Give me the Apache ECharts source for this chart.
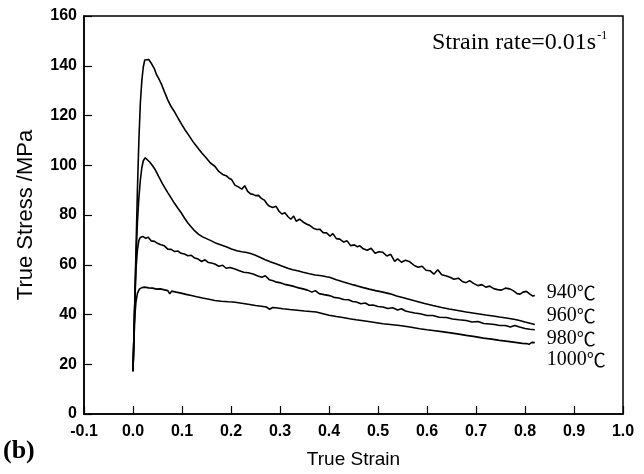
<!DOCTYPE html>
<html>
<head>
<meta charset="utf-8">
<script src="https://cdn.jsdelivr.net/npm/echarts@6/dist/echarts.min.js"></script>
<style>html,body{margin:0;padding:0;background:#fff}#c{width:644px;height:474px}</style>
</head>
<body>
<div id="c"></div>
<script>
// ---- data (true strain, true stress MPa) ----
const seriesNames = ['940', '960', '980', '1000'];
const unit = '℃';
const xTicks = [-0.1, 0.0, 0.1, 0.2, 0.3, 0.4, 0.5, 0.6, 0.7, 0.8, 0.9, 1.0];
const yTicks = [0, 20, 40, 60, 80, 100, 120, 140, 160];

const s940 = [[0,17.2],[0.003,40],[0.006,65],[0.009,90],[0.012,110],[0.015,125],[0.018,134],[0.021,139.5],[0.024,142.3],
[0.027,143.0],[0.032,142.5],[0.038,140.8],[0.044,138.6],[0.048,136.4],[0.052,135.0],[0.058,132.6],[0.064,129.6],[0.071,126.3],
[0.078,123.5],[0.085,121.4],[0.092,118.9],[0.1,116.2],[0.106,114.3],[0.114,112.0],[0.122,109.6],[0.13,107.5],[0.14,105.0],
[0.15,102.8],[0.158,100.9],[0.167,99.6],[0.175,97.5],[0.183,96.3],[0.19,95.8],[0.196,94.8],[0.201,94.3],[0.208,92.0],
[0.215,91.3],[0.222,90.4],[0.228,91.8],[0.234,89.5],[0.24,88.5],[0.245,88.3],[0.25,87.8],[0.256,87.9],[0.262,86.7],
[0.268,86.0],[0.274,84.3],[0.279,83.5],[0.285,83.0],[0.292,83.5],[0.298,81.5],[0.304,80.4],[0.31,80.9],[0.316,79.4],
[0.322,78.3],[0.328,79.6],[0.333,77.5],[0.34,78.3],[0.347,77.2],[0.354,76.4],[0.36,75.9],[0.368,74.7],[0.375,74.2],
[0.381,74.3],[0.388,72.9],[0.395,72.8],[0.402,71.5],[0.408,72.5],[0.415,70.5],[0.422,70.3],[0.43,69.1],[0.437,69.6],
[0.444,67.7],[0.452,68.0],[0.458,67.2],[0.463,67.6],[0.47,66.4],[0.478,65.8],[0.486,66.6],[0.494,64.6],[0.502,65.2],
[0.51,65.0],[0.518,63.5],[0.526,64.2],[0.534,61.4],[0.54,62.4],[0.548,61.0],[0.556,61.8],[0.565,61.2],[0.574,59.7],
[0.582,59.0],[0.59,59.4],[0.598,57.8],[0.606,57.6],[0.614,56.2],[0.622,58.0],[0.63,56.0],[0.638,55.6],[0.647,55.0],
[0.655,54.2],[0.664,54.6],[0.672,53.3],[0.68,52.8],[0.687,53.6],[0.695,52.5],[0.704,51.6],[0.712,52.0],[0.72,51.0],
[0.728,51.4],[0.736,50.4],[0.744,50.0],[0.752,49.8],[0.76,50.6],[0.769,50.3],[0.776,49.6],[0.784,48.4],[0.79,48.2],
[0.796,49.0],[0.803,49.3],[0.81,48.2],[0.816,47.4],[0.82,47.6]];

const s960 = [[0,17.2],[0.003,40],[0.006,62],[0.009,77],[0.012,87],[0.015,94],[0.018,99],[0.021,101.8],[0.025,103.0],
[0.029,102.6],[0.034,101.3],[0.04,99.8],[0.045,98.3],[0.052,95.6],[0.06,92.6],[0.066,90.6],[0.071,89.0],[0.078,86.8],
[0.085,84.6],[0.092,82.6],[0.098,81.0],[0.105,78.8],[0.112,76.8],[0.119,75.2],[0.126,73.6],[0.134,72.2],[0.142,71.2],
[0.15,70.5],[0.16,69.6],[0.17,68.6],[0.18,67.9],[0.19,67.2],[0.201,66.3],[0.212,65.6],[0.222,65.2],[0.232,64.9],
[0.24,64.5],[0.25,63.8],[0.26,62.9],[0.27,62.0],[0.28,61.2],[0.293,60.3],[0.305,59.4],[0.316,58.6],[0.326,58.0],
[0.338,57.5],[0.347,57.0],[0.36,56.4],[0.372,55.9],[0.385,55.6],[0.395,55.2],[0.401,55.0],[0.415,54.0],[0.428,53.2],
[0.44,52.5],[0.45,51.9],[0.456,51.6],[0.47,50.8],[0.482,50.2],[0.495,49.6],[0.51,49.0],[0.525,48.3],[0.538,47.4],
[0.55,46.8],[0.565,46.0],[0.58,45.2],[0.595,44.4],[0.612,43.6],[0.63,42.8],[0.645,42.2],[0.66,41.7],[0.68,41.0],
[0.7,40.4],[0.72,39.8],[0.735,39.4],[0.748,39.0],[0.765,38.5],[0.78,38.0],[0.789,37.6],[0.8,37.0],[0.812,36.4],[0.82,36.0]];

const s980 = [[0,17.2],[0.003,40],[0.006,58],[0.009,66],[0.012,69.8],[0.015,71.0],[0.02,71.4],[0.026,70.6],[0.031,71.1],
[0.037,69.6],[0.044,69.4],[0.05,68.6],[0.057,68.0],[0.064,67.6],[0.071,66.3],[0.078,66.2],[0.085,65.3],[0.092,65.5],
[0.098,64.6],[0.105,64.3],[0.112,63.6],[0.119,63.8],[0.126,62.7],[0.133,62.3],[0.14,61.3],[0.147,62.0],[0.154,60.9],
[0.16,60.7],[0.167,60.3],[0.175,59.4],[0.183,59.8],[0.19,58.6],[0.198,58.9],[0.208,58.3],[0.217,57.6],[0.226,57.0],
[0.235,56.8],[0.245,56.3],[0.255,55.5],[0.263,55.0],[0.27,55.6],[0.278,54.0],[0.286,53.6],[0.293,53.0],[0.302,52.7],
[0.312,52.0],[0.322,51.6],[0.33,51.2],[0.338,50.7],[0.347,50.3],[0.356,49.8],[0.365,49.0],[0.372,49.6],[0.38,48.4],
[0.39,48.0],[0.401,47.6],[0.41,46.9],[0.42,46.6],[0.43,46.0],[0.44,45.9],[0.448,45.2],[0.456,45.0],[0.465,44.3],
[0.474,44.6],[0.482,43.7],[0.49,43.8],[0.5,43.2],[0.51,43.0],[0.52,42.4],[0.53,42.7],[0.54,41.8],[0.548,42.3],
[0.556,41.4],[0.565,41.0],[0.575,40.6],[0.586,40.3],[0.6,39.6],[0.612,39.6],[0.625,38.9],[0.64,38.8],[0.652,38.2],
[0.665,37.9],[0.68,37.6],[0.692,37.0],[0.704,37.2],[0.716,36.4],[0.728,36.2],[0.738,36.0],[0.748,35.6],[0.76,35.6],
[0.77,35.0],[0.779,35.6],[0.789,35.0],[0.8,34.4],[0.81,34.1],[0.82,33.9]];

const s1000 = [[0,17.2],[0.002,30],[0.004,40],[0.006,45],[0.009,48.5],[0.013,50.2],[0.018,50.8],[0.024,51.0],[0.032,50.7],
[0.04,50.6],[0.048,50.2],[0.056,50.3],[0.064,49.9],[0.071,49.6],[0.075,48.3],[0.079,49.4],[0.088,49.0],[0.098,48.6],
[0.108,48.1],[0.119,47.6],[0.13,47.1],[0.142,46.6],[0.155,46.1],[0.167,45.6],[0.18,45.3],[0.195,45.1],[0.204,45.0],
[0.208,45.7],[0.212,44.8],[0.225,44.4],[0.238,44.0],[0.25,43.6],[0.262,43.3],[0.272,43.0],[0.279,42.1],[0.285,42.8],
[0.295,42.6],[0.306,42.3],[0.32,42.0],[0.335,41.7],[0.35,41.4],[0.362,41.2],[0.374,41.0],[0.388,40.3],[0.4,39.7],
[0.415,39.2],[0.428,38.8],[0.442,38.3],[0.455,37.9],[0.47,37.5],[0.484,37.1],[0.497,36.7],[0.51,36.3],[0.525,36.0],
[0.544,35.6],[0.565,35.0],[0.585,34.3],[0.6,33.9],[0.612,33.6],[0.63,33.1],[0.648,32.6],[0.665,32.1],[0.68,31.6],
[0.698,31.1],[0.715,30.5],[0.732,30.1],[0.748,29.6],[0.765,29.2],[0.78,28.8],[0.795,28.4],[0.803,28.3],[0.808,28.0],
[0.814,28.8],[0.82,28.7]];

const seriesData = [s940, s960, s980, s1000];
const labelOffsets = [[4, -3], [4, -9], [4, 9], [4, 17]];

const chart = echarts.init(document.getElementById('c'), null, {renderer: 'canvas'});
const sans = "'Liberation Sans', Arial, sans-serif";
const serif = "'Liberation Serif', 'Times New Roman', serif";
const tickFont = {fontFamily: sans, fontWeight: 'bold', fontSize: 16, color: '#000'};

chart.setOption({
  animation: false,
  backgroundColor: '#fff',
  grid: {left: 84, right: 21, top: 16, bottom: 58, show: true, borderColor: '#000', borderWidth: 1.5, backgroundColor: 'transparent'},
  xAxis: {
    type: 'value', min: xTicks[0], max: xTicks[xTicks.length - 1], interval: 0.1,
    name: 'True Strain', nameLocation: 'middle', nameGap: 36,
    nameTextStyle: {fontFamily: sans, fontSize: 19, color: '#000'},
    axisLine: {onZero: false, lineStyle: {color: '#000', width: 1.5}},
    axisTick: {inside: true, length: 8, lineStyle: {color: '#000', width: 1.2}},
    axisLabel: Object.assign({margin: 10, formatter: v => (Math.abs(v) < 1e-9 ? 0 : v).toFixed(1)}, tickFont),
    splitLine: {show: false}
  },
  yAxis: {
    type: 'value', min: yTicks[0], max: yTicks[yTicks.length - 1], interval: 20,
    name: 'True Stress /MPa', nameLocation: 'middle', nameGap: 47, nameRotate: 90,
    nameTextStyle: {fontFamily: sans, fontSize: 22, color: '#000'},
    axisLine: {onZero: false, lineStyle: {color: '#000', width: 1.5}},
    axisTick: {inside: true, length: 8, lineStyle: {color: '#000', width: 1.2}},
    axisLabel: Object.assign({margin: 7}, tickFont),
    splitLine: {show: false}
  },
  graphic: [
    {type: 'text', left: 432, top: 30, style: {
      text: '{a|Strain rate=0.01s}{b|-1}',
      rich: {
        a: {fontFamily: serif, fontSize: 24, fill: '#000', lineHeight: 26},
        b: {fontFamily: serif, fontSize: 12, fill: '#000', verticalAlign: 'top', lineHeight: 26, padding: [0, 0, 12, 1]}
      }
    }},
    {type: 'text', left: 3, top: 438, style: {text: '(b)', fontFamily: serif, fontWeight: 'bold', fontSize: 26, fill: '#000'}}
  ],
  series: seriesData.map((d, i) => ({
    name: seriesNames[i] + unit, type: 'line', data: d, showSymbol: false, symbol: 'none',
    lineStyle: {color: '#000', width: 1.6}, itemStyle: {color: '#000'},
    endLabel: {show: true, formatter: '{n|' + seriesNames[i] + '}{c|' + unit + '}', offset: labelOffsets[i],
      rich: {
        n: {fontFamily: serif, fontSize: 20, color: '#000'},
        c: {fontFamily: "'Noto Sans CJK SC', 'Noto Sans CJK JP', sans-serif", fontSize: 19, color: '#000'}
      }}
  }))
});
</script>
</body>
</html>
